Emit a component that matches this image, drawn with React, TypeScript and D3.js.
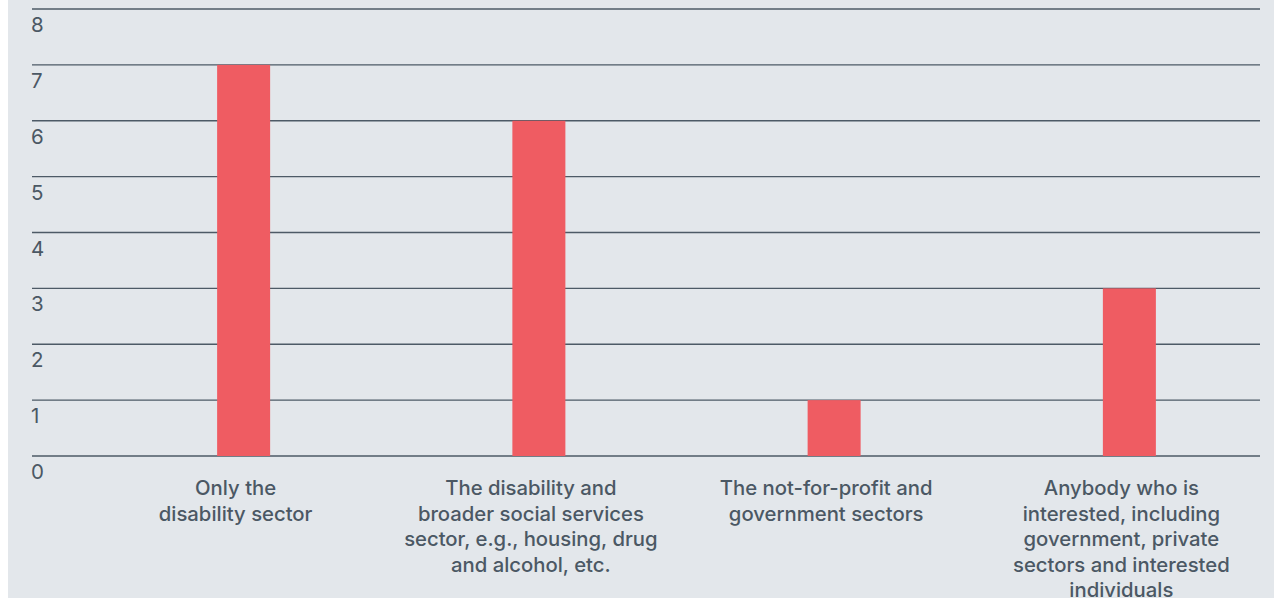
import React from "react";
import * as d3 from "d3";

const categories: string[][] = [
  ["Only the", "disability sector"],
  ["The disability and", "broader social services", "sector, e.g., housing, drug", "and alcohol, etc."],
  ["The not-for-profit and", "government sectors"],
  ["Anybody who is", "interested, including", "government, private", "sectors and interested", "individuals"],
];
const values: number[] = [7, 6, 1, 3];
const yTicks: number[] = [0, 1, 2, 3, 4, 5, 6, 7, 8];

const W = 1274;
const H = 599;

export default function App() {
  const x = d3.scaleBand<number>().domain(categories.map((_, i) => i)).range([88, 1269]);
  const y = d3.scaleLinear().domain([0, 8]).range([456, 9]);
  const barW = 53;
  const barOffset = 8;
  const textColor = "#4b5864";
  const font = "Inter, sans-serif";
  return (
    <svg width={W} height={H} style={{ position: "absolute", left: 0, top: 0 }}>
      <rect x={8} y={0} width={W - 8} height={H - 1} fill="#e3e7eb" />
      {yTicks.map((t) => (
        <g key={t}>
          <line x1={32} x2={1260} y1={y(t)} y2={y(t)} stroke="#4d5a66" strokeWidth={1.3} />
          <text x={31} y={y(t) + 23} fontFamily={font} fontSize={20.5} fill={textColor}>
            {t}
          </text>
        </g>
      ))}
      {values.map((v, i) => {
        const cx = (x(i) as number) + x.bandwidth() / 2 + barOffset;
        return (
          <rect key={i} x={cx - barW / 2} y={y(v)} width={barW} height={y(0) - y(v)} fill="#ef5c62" />
        );
      })}
      {categories.map((lines, i) => {
        const cx = (x(i) as number) + x.bandwidth() / 2;
        return (
          <text key={i} textAnchor="middle" fontFamily={font} fontSize={20.3} fontWeight={500} fill={textColor}>
            {lines.map((l, j) => (
              <tspan key={j} x={cx} y={495 + j * 25.5}>
                {l}
              </tspan>
            ))}
          </text>
        );
      })}
    </svg>
  );
}
